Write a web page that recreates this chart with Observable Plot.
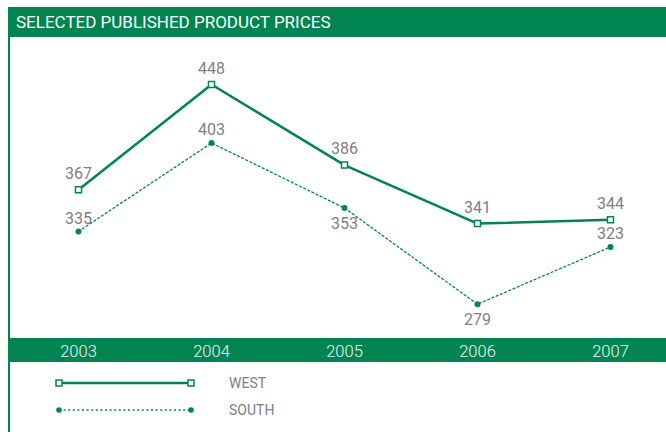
<!DOCTYPE html>
<html><head><meta charset="utf-8">
<script src="https://cdn.jsdelivr.net/npm/d3@7"></script>
<script src="https://cdn.jsdelivr.net/npm/@observablehq/plot@0.6"></script>
<style>
html,body{margin:0;padding:0;background:#fff;width:666px;height:432px;overflow:hidden;font-family:Roboto,"Liberation Sans",sans-serif;}
#title{position:absolute;left:8px;top:7px;width:650px;height:30px;background:#008552;color:#fff;font-size:17px;line-height:31px;padding-left:8px;white-space:nowrap;}
#rule{position:absolute;left:8px;top:37px;width:1.5px;height:395px;background:#008552;}
#chart{position:absolute;left:8px;top:37px;}
#legend{position:absolute;left:8px;top:362px;}
#chart svg{background:linear-gradient(to bottom,#fff 0,#fff 301px,#008552 301px,#008552 100%);}
</style></head>
<body>
<div id="title">SELECTED PUBLISHED PRODUCT PRICES</div>
<div id="chart"></div>
<div id="legend"></div>
<div id="rule"></div>
<script>
const years = ["2003","2004","2005","2006","2007"];
const west = [367,448,386,341,344];
const south = [335,403,353,279,323];
const seriesNames = ["WEST","SOUTH"];
const southLabelBelow = ["2005","2006"];

const green = "#008552";
const grey = "#808080";

const westData = years.map((y,i)=>({year:y, value:west[i]}));
const southData = years.map((y,i)=>({year:y, value:south[i]}));

const chart = Plot.plot({
  width: 658, height: 325,
  marginTop: 0, marginBottom: 24, marginLeft: 0, marginRight: 0,
  style: {fontFamily: "Roboto, 'Liberation Sans', sans-serif", overflow: "visible"},
  x: {type: "point", domain: years, range: [69, 602], padding: 0, axis: null},
  y: {domain: [250, 450], range: [304.4, 44.4], axis: null},
  marks: [
    Plot.line(southData, {x: "year", y: "value", stroke: green, strokeWidth: 1.3, strokeDasharray: "2,2.6"}),
    Plot.line(westData, {x: "year", y: "value", stroke: green, strokeWidth: 2.5}),
    Plot.dot(southData, {x: "year", y: "value", r: 3, fill: green, stroke: "none"}),
    Plot.dot(westData, {x: "year", y: "value", symbol: "square", r: 3.4, fill: "#fff", stroke: green, strokeWidth: 1.5}),
    Plot.text(westData, {x: "year", y: "value", text: d => String(d.value), dy: -16, fill: grey, fontSize: 16}),
    Plot.text(southData.filter(d => !southLabelBelow.includes(d.year)), {x: "year", y: "value", text: d => String(d.value), dy: -13, fill: grey, fontSize: 16}),
    Plot.text(southData.filter(d => southLabelBelow.includes(d.year)), {x: "year", y: "value", text: d => String(d.value), dy: 16, fill: grey, fontSize: 16}),
    Plot.axisX({anchor: "bottom", tickSize: 0, tickPadding: 7, fill: "#f4f4f4", stroke: "none", fontSize: 16.5, fontWeight: 300, label: null})
  ]
});
document.getElementById("chart").appendChild(chart);

// legend
const lg = d3.select("#legend").append("svg").attr("width", 658).attr("height", 70);
const styles = [
  {w: 2.5, dash: null, sym: "square"},
  {w: 1.3, dash: "2,2.6", sym: "circle"}
];
seriesNames.forEach((name, i) => {
  const y = 21 + i * 27;
  const s = styles[i];
  lg.append("line").attr("x1", 51).attr("x2", 183).attr("y1", y).attr("y2", y)
    .attr("stroke", green).attr("stroke-width", s.w).attr("stroke-dasharray", s.dash);
  [51, 183].forEach(x => {
    if (s.sym === "square") {
      lg.append("rect").attr("x", x - 3).attr("y", y - 3).attr("width", 6).attr("height", 6)
        .attr("fill", "#fff").attr("stroke", green).attr("stroke-width", 1.5);
    } else {
      lg.append("circle").attr("cx", x).attr("cy", y).attr("r", 2.8).attr("fill", green);
    }
  });
  lg.append("text").attr("x", 221).attr("y", y).attr("dy", "0.35em")
    .attr("fill", grey).attr("font-size", 14).attr("font-family", "Roboto, 'Liberation Sans', sans-serif").text(name);
});
</script>
</body></html>
